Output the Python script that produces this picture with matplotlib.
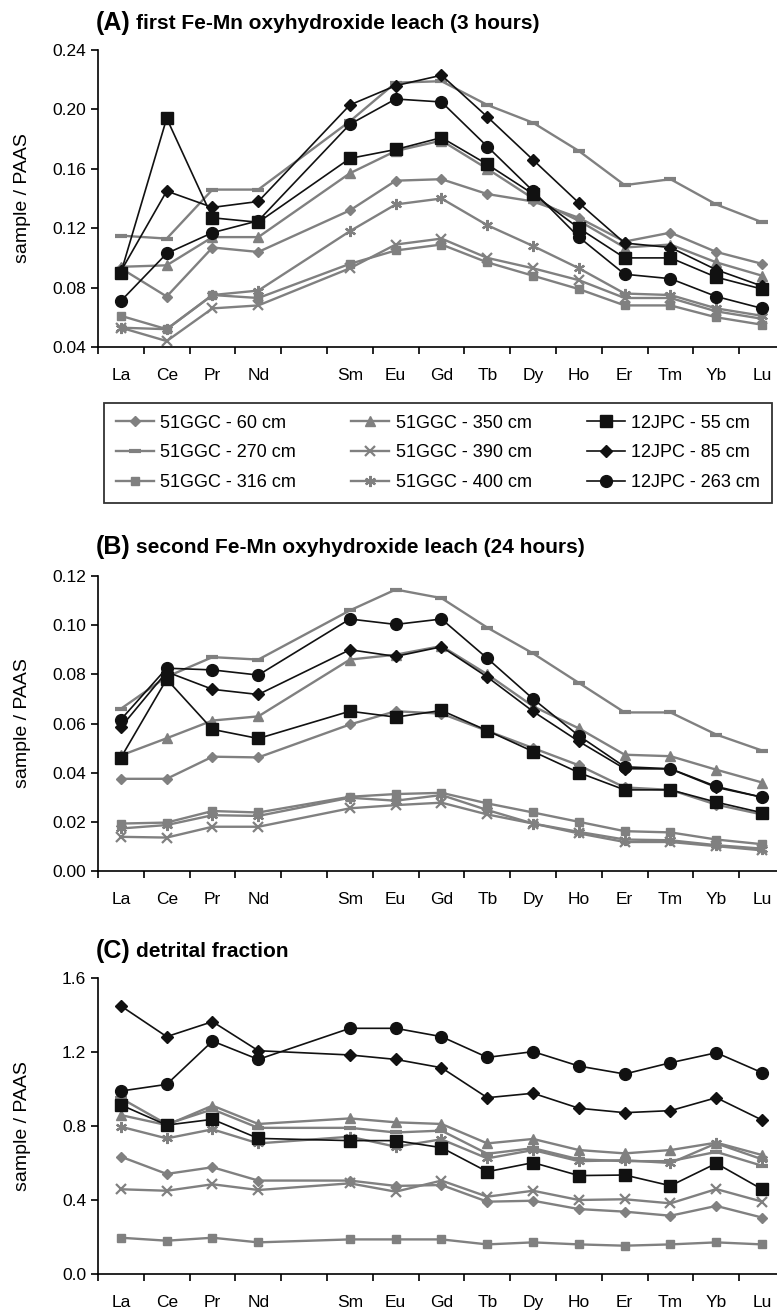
import numpy as np
import matplotlib.pyplot as plt
from matplotlib.lines import Line2D

# REE patterns normalised to PAAS - three leach steps
ree = ["La", "Ce", "Pr", "Nd", "Sm", "Eu", "Gd", "Tb", "Dy", "Ho", "Er", "Tm", "Yb", "Lu"]
# Pm has no data, so its slot (index 4) stays empty
pos = [0, 1, 2, 3, 5, 6, 7, 8, 9, 10, 11, 12, 13, 14]
tick_names = ["La", "Ce", "Pr", "Nd", "", "Sm", "Eu", "Gd", "Tb", "Dy", "Ho", "Er", "Tm", "Yb", "Lu"]

series_names = ["51GGC - 60 cm", "51GGC - 270 cm", "51GGC - 316 cm",
                "51GGC - 350 cm", "51GGC - 390 cm", "51GGC - 400 cm",
                "12JPC - 55 cm", "12JPC - 85 cm", "12JPC - 263 cm"]

# (A) first leach, 3 hours
a_60 = [0.093, 0.074, 0.107, 0.104, 0.132, 0.152, 0.153, 0.143, 0.138, 0.127, 0.111, 0.117, 0.104, 0.096]
a_270 = [0.115, 0.113, 0.146, 0.146, 0.192, 0.218, 0.219, 0.203, 0.191, 0.172, 0.149, 0.153, 0.136, 0.124]
a_316 = [0.061, 0.052, 0.075, 0.073, 0.096, 0.105, 0.109, 0.097, 0.088, 0.079, 0.068, 0.068, 0.060, 0.055]
a_350 = [0.094, 0.095, 0.114, 0.114, 0.157, 0.172, 0.179, 0.160, 0.140, 0.125, 0.107, 0.109, 0.097, 0.088]
a_390 = [0.053, 0.044, 0.066, 0.068, 0.093, 0.109, 0.113, 0.100, 0.093, 0.085, 0.073, 0.073, 0.064, 0.059]
a_400 = [0.053, 0.052, 0.075, 0.078, 0.118, 0.136, 0.140, 0.122, 0.108, 0.093, 0.076, 0.075, 0.066, 0.061]
a_55 = [0.090, 0.194, 0.127, 0.124, 0.167, 0.173, 0.181, 0.163, 0.143, 0.120, 0.100, 0.100, 0.087, 0.079]
a_85 = [0.091, 0.145, 0.134, 0.138, 0.203, 0.216, 0.223, 0.195, 0.166, 0.137, 0.110, 0.107, 0.092, 0.081]
a_263 = [0.071, 0.103, 0.117, 0.125, 0.190, 0.207, 0.205, 0.175, 0.145, 0.114, 0.089, 0.086, 0.074, 0.066]

# (B) second leach, 24 hours
b_60 = [0.0375, 0.0375, 0.0465, 0.0462, 0.0596, 0.0650, 0.0640, 0.0570, 0.0500, 0.0430, 0.0340, 0.0330, 0.0270, 0.0230]
b_270 = [0.066, 0.079, 0.087, 0.086, 0.106, 0.1145, 0.111, 0.099, 0.0885, 0.0765, 0.0645, 0.0645, 0.0555, 0.049]
b_316 = [0.0193, 0.0197, 0.0244, 0.0238, 0.0302, 0.0313, 0.0318, 0.0275, 0.0238, 0.0200, 0.0162, 0.0157, 0.0128, 0.0109]
b_350 = [0.047, 0.054, 0.0612, 0.0629, 0.0860, 0.0880, 0.0915, 0.0800, 0.0670, 0.0580, 0.0473, 0.0467, 0.0412, 0.0360]
b_390 = [0.0139, 0.0136, 0.0180, 0.0180, 0.0255, 0.0268, 0.0278, 0.0230, 0.0193, 0.0153, 0.0118, 0.0118, 0.0101, 0.0084]
b_400 = [0.0173, 0.0187, 0.0227, 0.0224, 0.0298, 0.0286, 0.0309, 0.0248, 0.0193, 0.0159, 0.0128, 0.0125, 0.0105, 0.0091]
b_55 = [0.0461, 0.0780, 0.0576, 0.0539, 0.0650, 0.0626, 0.0653, 0.0571, 0.0486, 0.0400, 0.0330, 0.0330, 0.0280, 0.0237]
b_85 = [0.0585, 0.0810, 0.0739, 0.0718, 0.0900, 0.0873, 0.0912, 0.0789, 0.0649, 0.0527, 0.0416, 0.0415, 0.0340, 0.0300]
b_263 = [0.0616, 0.0825, 0.0818, 0.0797, 0.1025, 0.1003, 0.1025, 0.0865, 0.0700, 0.0550, 0.0424, 0.0416, 0.0344, 0.0300]

# (C) detrital fraction
c_60 = [0.634, 0.541, 0.577, 0.505, 0.505, 0.476, 0.481, 0.391, 0.396, 0.351, 0.337, 0.315, 0.368, 0.305]
c_270 = [0.950, 0.810, 0.890, 0.790, 0.790, 0.765, 0.775, 0.650, 0.680, 0.620, 0.610, 0.610, 0.660, 0.585]
c_316 = [0.196, 0.180, 0.196, 0.171, 0.187, 0.187, 0.187, 0.160, 0.171, 0.160, 0.153, 0.160, 0.171, 0.160]
c_350 = [0.859, 0.805, 0.910, 0.811, 0.841, 0.820, 0.811, 0.706, 0.730, 0.670, 0.652, 0.670, 0.710, 0.643]
c_390 = [0.458, 0.450, 0.485, 0.454, 0.490, 0.445, 0.505, 0.418, 0.450, 0.400, 0.404, 0.382, 0.459, 0.391]
c_400 = [0.796, 0.733, 0.782, 0.706, 0.742, 0.688, 0.728, 0.625, 0.670, 0.610, 0.615, 0.600, 0.706, 0.620]
c_55 = [0.914, 0.805, 0.836, 0.733, 0.721, 0.721, 0.683, 0.553, 0.602, 0.532, 0.535, 0.477, 0.598, 0.458]
c_85 = [1.449, 1.283, 1.364, 1.207, 1.184, 1.160, 1.115, 0.953, 0.977, 0.896, 0.872, 0.883, 0.953, 0.832]
c_263 = [0.989, 1.025, 1.259, 1.160, 1.328, 1.328, 1.283, 1.171, 1.202, 1.124, 1.081, 1.142, 1.196, 1.088]

gray = "#808080"
blk = "#111111"
star = (6, 2, 0)  # six-armed asterisk like the Excel marker
# marker, size, colour, linewidth
styles = [("D", 5.0, gray, 1.7), ("_", 8, gray, 1.7), ("s", 5.5, gray, 1.7),
          ("^", 6.5, gray, 1.7), ("x", 7, gray, 1.7), (star, 8, gray, 1.7),
          ("s", 8.5, blk, 1.2), ("D", 6.5, blk, 1.2), ("o", 8.5, blk, 1.2)]

plt.rcParams["font.family"] = ["Liberation Sans", "DejaVu Sans"]

fig = plt.figure(figsize=(7.77, 13.15), dpi=100)
W, H = 777.0, 1315.0


def make_ax(top_px, bot_px):
    left = 98 / W
    width = (785 - 98) / W
    return fig.add_axes([left, 1 - bot_px / H, width, (bot_px - top_px) / H])


def mew_for(mk):
    if mk == "_":
        return 3
    if mk == "x" or mk == star:
        return 1.6
    return 1


def draw(ax, data, ylo, ymax, step, fmt, title_tag, title_txt, title_y):
    for vals, st in zip(data, styles):
        mk, ms, col, lw = st
        ax.plot(pos, vals, color=col, lw=lw, marker=mk, ms=ms,
                mfc=col, mec=col, mew=mew_for(mk), clip_on=False)
    ax.set_xlim(-0.5, 14.5)
    ax.set_ylim(ylo, ymax)
    yt = np.arange(ylo, ymax + step / 2, step)
    ax.set_yticks(yt)
    ax.set_yticklabels([fmt % v for v in yt])
    ax.set_xticks(np.arange(-0.5, 15, 1))
    ax.set_xticklabels([])
    ax.set_xticks(np.arange(15), minor=True)
    ax.set_xticklabels(tick_names, minor=True)
    ax.tick_params(axis="x", which="major", direction="out", length=5, width=1.2)
    ax.tick_params(axis="x", which="minor", length=0, pad=15, labelsize=12.5)
    ax.tick_params(axis="y", direction="out", length=5, width=1.2, labelsize=12.5)
    for s in ["top", "right"]:
        ax.spines[s].set_visible(False)
    for s in ["left", "bottom"]:
        ax.spines[s].set_linewidth(1.2)
    t1 = fig.text(96 / W, 1 - title_y / H, title_tag, fontsize=18, fontweight="bold", va="center")
    ax.annotate(title_txt, xy=(1, 0.5), xycoords=t1, xytext=(4, -0.5),
                textcoords="offset points", va="center", fontsize=15, fontweight="bold")
    b = ax.get_position()
    fig.text(23 / W, b.y0 + b.height / 2, "sample / PAAS", rotation=90,
             fontsize=14, va="center", ha="center")


axA = make_ax(50, 347)
draw(axA, [a_60, a_270, a_316, a_350, a_390, a_400, a_55, a_85, a_263],
     0.04, 0.24, 0.04, "%.2f", "(A)", "first Fe-Mn oxyhydroxide leach (3 hours)", 23)

axB = make_ax(576, 871)
draw(axB, [b_60, b_270, b_316, b_350, b_390, b_400, b_55, b_85, b_263],
     0.0, 0.12, 0.02, "%.2f", "(B)", "second Fe-Mn oxyhydroxide leach (24 hours)", 547)

axC = make_ax(978, 1274)
draw(axC, [c_60, c_270, c_316, c_350, c_390, c_400, c_55, c_85, c_263],
     0.0, 1.6, 0.4, "%.1f", "(C)", "detrital fraction", 951)

# legend in its own box between A and B
handles = []
for st in styles:
    mk, ms, col, lw = st
    handles.append(Line2D([], [], color=col, lw=lw, marker=mk, ms=ms, mfc=col, mec=col, mew=mew_for(mk)))
leg = fig.legend(handles, series_names, ncol=3, loc="lower left",
                 bbox_to_anchor=(104 / W, 1 - 503 / H, (772 - 104) / W, (503 - 407) / H),
                 mode="expand", fontsize=13, frameon=True, fancybox=False,
                 handlelength=2.1, handletextpad=0.35, labelspacing=0.71,
                 borderpad=0.65, borderaxespad=0)
leg.get_frame().set_edgecolor("black")
leg.get_frame().set_linewidth(1.3)

fig.savefig("out.png", dpi=100)
